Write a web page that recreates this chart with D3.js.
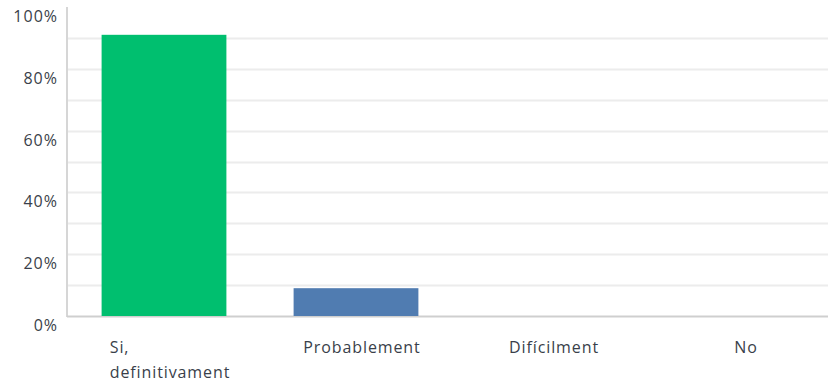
<!DOCTYPE html>
<html><head><meta charset="utf-8">
<script src="https://cdn.jsdelivr.net/npm/d3@7"></script>
<style>body{margin:0;background:#fff}svg{display:block}</style>
</head><body>
<svg id="c" width="828" height="385"></svg>
<script>
const categories = [["Si,", "definitivament"], ["Probablement"], ["Difícilment"], ["No"]];
const values = [91, 9, 0, 0];
const barColors = ["#00bf6f", "#507cb1", "#00bf6f", "#00bf6f"];
const tickValues = [0, 20, 40, 60, 80, 100];
const gridValues = [10, 20, 30, 40, 50, 60, 70, 80, 90];

(function () {
const svg = d3.select("#c");
const mLeft = 67, mRight = 836, mTop = 7, mBottom = 316;
const font = "'Open Sans', sans-serif";

const x = d3.scaleBand().domain(d3.range(categories.length)).range([mLeft + 1, mRight])
  .paddingInner(0.35).paddingOuter(0.175);
const y = d3.scaleLinear().domain([0, 100]).range([mBottom, mTop]);

svg.append("g").selectAll("line").data(gridValues).join("line")
  .attr("x1", mLeft).attr("x2", 828)
  .attr("y1", d => Math.round(y(d)) + 0.5).attr("y2", d => Math.round(y(d)) + 0.5)
  .attr("stroke", "#ececec").attr("stroke-width", 2);

svg.append("line").attr("x1", mLeft).attr("x2", mLeft).attr("y1", mTop).attr("y2", mBottom + 1)
  .attr("stroke", "#d6d6d6").attr("stroke-width", 2);
svg.append("line").attr("x1", mLeft).attr("x2", 828).attr("y1", mBottom + 0.5).attr("y2", mBottom + 0.5)
  .attr("stroke", "#cfcfcf").attr("stroke-width", 2);

svg.append("g").selectAll("rect").data(values).join("rect")
  .attr("x", (d, i) => x(i)).attr("width", x.bandwidth())
  .attr("y", d => y(d)).attr("height", d => mBottom - y(d))
  .attr("fill", (d, i) => barColors[i]);

svg.append("g").selectAll("text").data(tickValues).join("text")
  .attr("x", 58).attr("y", d => y(d) + 15)
  .attr("text-anchor", "end").attr("font-family", font).attr("font-size", 16)
  .attr("letter-spacing", 1).attr("fill", "#3a3f4a").text(d => d + "%");

const lab = svg.append("g");
categories.forEach((lines, i) => {
  const t = lab.append("text").attr("font-family", font).attr("font-size", 16)
    .attr("letter-spacing", 0.9).attr("fill", "#3a3f4a");
  lines.forEach((l, j) => t.append("tspan").attr("x", 0).attr("y", 353 + j * 25).text(l));
  const w = t.node().getBBox().width;
  const cx = x(i) + x.bandwidth() / 2 + 6;
  t.selectAll("tspan").attr("x", cx - w / 2);
});
})();
</script>
</body></html>
